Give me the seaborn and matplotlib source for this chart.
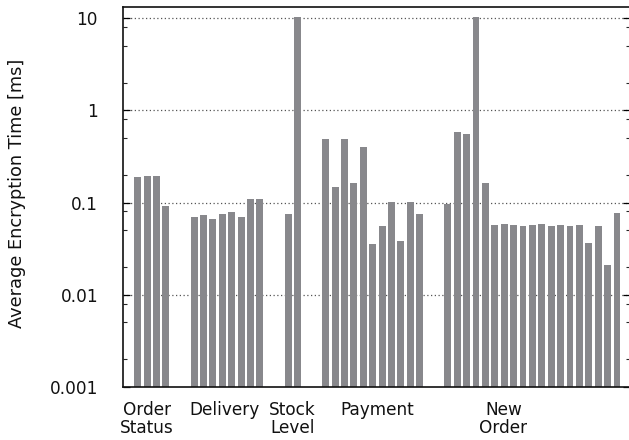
import numpy as np
import pandas as pd
import matplotlib
matplotlib.use("Agg")
import matplotlib.pyplot as plt
from matplotlib.ticker import LogLocator, FixedLocator, NullFormatter
import seaborn as sns

# ---- data ----
groups = ["Order\nStatus", "Delivery", "Stock\nLevel", "Payment", "New\nOrder"]
order_status = [0.188, 0.195, 0.192, 0.091]
delivery = [0.0705, 0.0728, 0.0663, 0.0746, 0.0798, 0.0692, 0.110, 0.1086]
stock_level = [0.0746, 10.4]
payment = [0.488, 0.147, 0.488, 0.163, 0.399, 0.0352, 0.0562, 0.1025, 0.0379, 0.1008, 0.0746]
new_order = [0.0966, 0.581, 0.557, 10.4, 0.162, 0.0571, 0.0581, 0.0571, 0.0562, 0.0571,
             0.0581, 0.0562, 0.0571, 0.0562, 0.0571, 0.0361, 0.0553, 0.0212, 0.0778]
series = [order_status, delivery, stock_level, payment, new_order]
label_pos = [1.0, 9.2, 16.5, 25.5, 38.9]
yticks = [0.001, 0.01, 0.1, 1, 10]
ytick_labels = ["0.001", "0.01", "0.1", "1", "10"]

# slot layout: two empty slots between groups
gap = 2
slots, vals = [], []
pos = 0
for s in series:
    for v in s:
        slots.append(pos)
        vals.append(v)
        pos += 1
    pos += gap
n_slots = pos - gap
df = pd.DataFrame({"slot": slots, "value": vals})

sns.set_theme(style="white")
plt.rcParams["font.family"] = ["DejaVu Sans"]

fig = plt.figure(figsize=(6.29, 4.40), dpi=100)
ax_w = (629.5 - 123) / 629
ax = fig.add_axes([123 / 629, 1 - 386.7 / 440, ax_w, (386.7 - 7.3) / 440])
ax.set_yscale("log")

sns.barplot(data=df, x="slot", y="value", order=list(range(n_slots)),
            color="#88888c", saturation=1, width=0.74, ax=ax, edgecolor="none")

ax.set_ylim(0.001, 13.2)
ax.set_xlim(-1.56, n_slots - 1 + 1.33)

ax.yaxis.set_major_locator(FixedLocator(yticks))
ax.set_yticklabels(ytick_labels)
ax.yaxis.set_minor_locator(LogLocator(base=10, subs=[2, 5, 8]))
ax.yaxis.set_minor_formatter(NullFormatter())
ax.tick_params(axis="y", which="major", direction="in", length=5, width=0.9,
               left=True, right=True, labelsize=12.2, pad=18, colors="black")
ax.tick_params(axis="y", which="minor", direction="in", length=3, width=0.8,
               left=True, right=True)
ax.tick_params(axis="y", labelcolor="#111111")

ax.set_xticks(label_pos)
ax.set_xticklabels(groups, fontsize=12.2, linespacing=1.05, color="#111111")
ax.tick_params(axis="x", which="both", length=0, pad=10)

for yv in yticks[1:]:
    ax.axhline(yv, color="#555555", linestyle=(0, (1, 2)), linewidth=0.9, zorder=0)

for side in ["left", "bottom", "top", "right"]:
    ax.spines[side].set_color("#111111")
    ax.spines[side].set_linewidth(1.2)

ax.set_xlabel("")
ax.set_ylabel("Average Encryption Time [ms]", fontsize=12.8, color="#111111")
ax.yaxis.set_label_coords(-(123 - 26) / (629.5 - 123), (386.7 - 193) / 379.4)

fig.savefig("out.png", dpi=100)
